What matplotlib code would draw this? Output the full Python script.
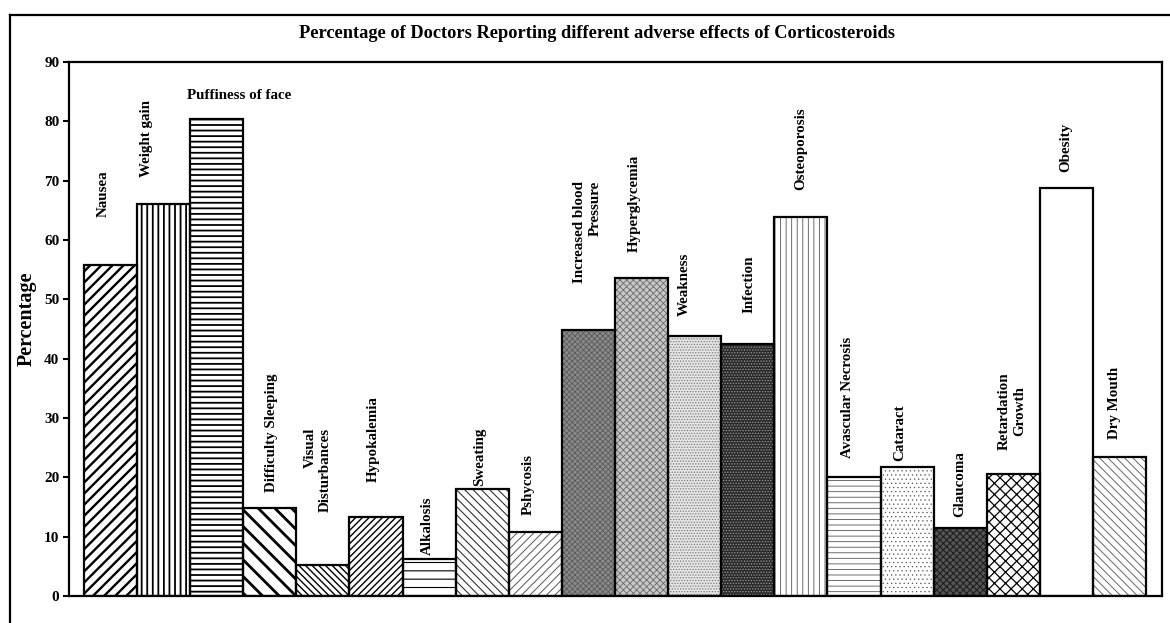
import matplotlib
matplotlib.use("Agg")
import matplotlib.pyplot as plt
from matplotlib.lines import Line2D

plt.rcParams['font.family'] = ['Liberation Serif', 'DejaVu Serif']
plt.rcParams['font.weight'] = 'bold'

categories = ["Nausea", "Weight gain", "Puffiness of face", "Difficulty Sleeping",
              "Visual\nDisturbances", "Hypokalemia", "Alkalosis", "Sweating",
              "Pshycosis", "Increased blood\nPressure", "Hyperglycemia", "Weakness",
              "Infection", "Osteoporosis", "Avascular Necrosis", "Cataract",
              "Glaucoma", "Retardation\nGrowth", "Obesity", "Dry Mouth"]
values = [55.8, 66.1, 80.4, 14.8, 5.3, 13.3, 6.3, 18.0, 10.8, 44.8,
          53.6, 43.8, 42.5, 63.9, 20.0, 21.7, 11.5, 20.5, 68.8, 23.5]
yticks = [0, 10, 20, 30, 40, 50, 60, 70, 80, 90]
title = "Percentage of Doctors Reporting different adverse effects of Corticosteroids"
ylabel = "Percentage"

# label layout: (x offset from bar centre, bottom of label in axis units, rotation, multialignment)
label_layout = [(-0.14, 63.9, 90, 'center'), (-0.315, 70.6, 90, 'center'),
                (0.43, 84.4, 0, 'center'), (0.04, 17.5, 90, 'center'),
                (-0.10, 14.2, 90, 'right'), (-0.06, 19.2, 90, 'center'),
                (-0.03, 6.9, 90, 'center'), (-0.05, 18.5, 90, 'center'),
                (-0.13, 13.7, 90, 'center'), (-0.02, 52.8, 90, 'right'),
                (-0.13, 58.0, 90, 'center'), (-0.19, 47.2, 90, 'center'),
                (0.03, 47.7, 90, 'center'), (0.0, 68.4, 90, 'center'),
                (-0.13, 23.3, 90, 'center'), (-0.13, 22.7, 90, 'center'),
                (0.0, 13.3, 90, 'center'), (-0.02, 24.6, 90, 'center'),
                (-0.01, 71.5, 90, 'center'), (-0.1, 26.5, 90, 'center')]

# fill styles: (face, hatch, hatch colour, hatch linewidth)
styles = [("white", "///", "black", 1.7),
          ("white", "|||", "black", 1.3),
          ("white", "---", "black", 1.3),
          ("white", "\\\\", "black", 2.0),
          ("white", "\\\\\\\\\\", "black", 1.0),
          ("white", "/////", "black", 1.0),
          ("white", "--", "black", 0.8),
          ("white", "\\\\\\\\", "#333333", 0.8),
          ("white", "////", "#555555", 0.7),
          ("#8a8a8a", "xxxxxx", "#5a5a5a", 0.6),
          ("#c8c8c8", "xxxxx", "#6a6a6a", 0.6),
          ("#e4e4e4", "......", "#7a7a7a", 0.6),
          ("#2a2a2a", "......", "#9a9a9a", 0.6),
          ("white", "|||", "#555555", 0.6),
          ("white", "---", "#555555", 0.6),
          ("white", "....", "#555555", 0.4),
          ("#555555", "xxxxx", "#202020", 0.8),
          ("white", "xxx", "black", 0.9),
          ("white", "", "black", 0.8),
          ("white", "\\\\\\\\", "#666666", 0.7)]

W, H = 1170, 623
fig = plt.figure(figsize=(W / 100, H / 100), dpi=100)
ax = fig.add_axes([69 / W, 27 / H, (1162 - 69) / W, (596 - 62) / H])

for i, v in enumerate(values):
    face, hatch, hcol, hlw = styles[i]
    with plt.rc_context({'hatch.linewidth': hlw}):
        ax.bar(i, v, width=1.0, color=face, edgecolor=hcol, hatch=hatch,
               linewidth=0, zorder=2)
    ax.bar(i, v, width=1.0, fill=False, edgecolor="black", linewidth=1.6, zorder=3)

for i, (lab, lay) in enumerate(zip(categories, label_layout)):
    dx, yb, rot, mal = lay
    if rot == 0:
        ax.text(i + dx, yb, lab, rotation=0, ha='center', va='center',
                fontsize=10.8, fontweight='bold')
    else:
        ax.text(i + dx, yb, lab, rotation=90, ha='center', va='bottom',
                fontsize=10.8, fontweight='bold', multialignment=mal,
                linespacing=1.2)

ax.set_xlim(-0.78, 19.8)
ax.set_ylim(0, 90)
ax.set_yticks(yticks)
ax.set_yticklabels([str(t) for t in yticks], fontsize=11, fontweight='bold')
ax.set_xticks([])
ax.tick_params(axis='y', direction='out', length=4, width=1.5, pad=3)
for s in ax.spines.values():
    s.set_linewidth(1.6)
ax.set_ylabel(ylabel, fontsize=14.5, fontweight='bold')
ax.yaxis.set_label_coords(-0.0294, 0.52)

fig.text(597 / W, 1 - 33 / H, title, ha='center', va='center',
         fontsize=13.2, fontweight='bold')

fig.add_artist(Line2D([10 / W, 1.0], [1 - 15 / H, 1 - 15 / H],
                      transform=fig.transFigure, color='black', linewidth=1.6))
fig.add_artist(Line2D([10 / W, 10 / W], [0.0, 1 - 15 / H],
                      transform=fig.transFigure, color='black', linewidth=1.6))

fig.savefig("out.png", dpi=100)
